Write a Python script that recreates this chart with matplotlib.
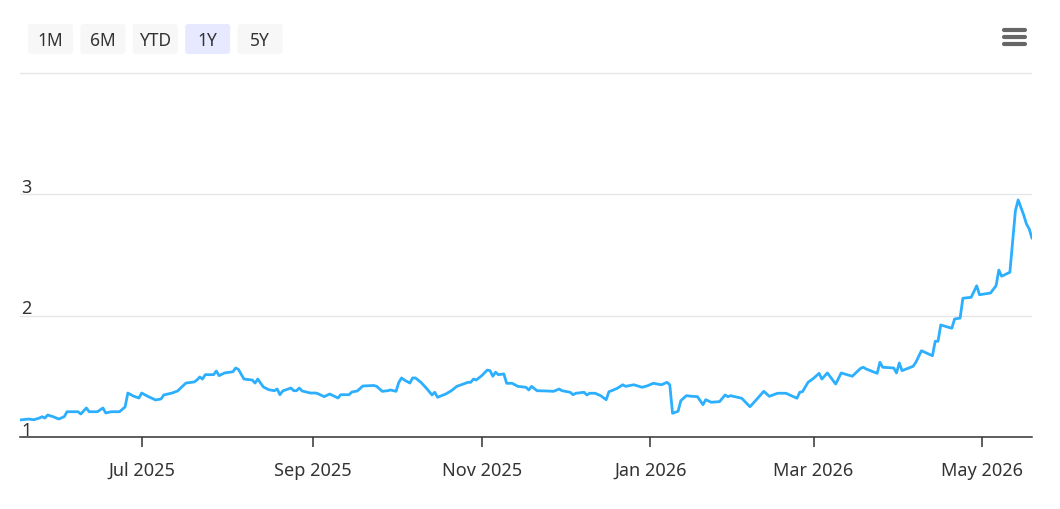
"""1Y price line with range selector buttons"""
import matplotlib
matplotlib.use('Agg')
import matplotlib.pyplot as plt
import matplotlib.dates as mdates
from matplotlib.patches import FancyBboxPatch
import pandas as pd

plt.rcParams['font.family'] = ['Noto Sans', 'DejaVu Sans']

# Data
dates_2025_05 = ['2025-05-18', '2025-05-21', '2025-05-23', '2025-05-25', '2025-05-26', '2025-05-27', '2025-05-28', '2025-05-30']
vals_2025_05 = [1.140, 1.148, 1.142, 1.156, 1.167, 1.156, 1.181, 1.167]
dates_2025_06 = ['2025-06-01', '2025-06-03', '2025-06-04', '2025-06-08', '2025-06-09', '2025-06-11', '2025-06-12', '2025-06-15',
                 '2025-06-17', '2025-06-18', '2025-06-20', '2025-06-23', '2025-06-25', '2025-06-26', '2025-06-28', '2025-06-30']
vals_2025_06 = [1.148, 1.167, 1.208, 1.208, 1.189, 1.239, 1.208, 1.208, 1.239, 1.198, 1.208, 1.208, 1.247, 1.362, 1.337, 1.321]
dates_2025_07 = ['2025-07-01', '2025-07-03', '2025-07-06', '2025-07-08', '2025-07-09', '2025-07-12', '2025-07-14', '2025-07-17',
                 '2025-07-20', '2025-07-21', '2025-07-22', '2025-07-23', '2025-07-24', '2025-07-27', '2025-07-28', '2025-07-29', '2025-07-31']
vals_2025_07 = [1.362, 1.337, 1.305, 1.313, 1.346, 1.362, 1.379, 1.444, 1.453, 1.469, 1.494, 1.477, 1.513, 1.513, 1.543, 1.505, 1.527]
dates_2025_08 = ['2025-08-03', '2025-08-04', '2025-08-05', '2025-08-07', '2025-08-10', '2025-08-11', '2025-08-12', '2025-08-14',
                 '2025-08-16', '2025-08-18', '2025-08-19', '2025-08-20', '2025-08-21', '2025-08-24', '2025-08-25', '2025-08-26',
                 '2025-08-27', '2025-08-28', '2025-08-31']
vals_2025_08 = [1.537, 1.568, 1.556, 1.477, 1.469, 1.444, 1.477, 1.412, 1.389, 1.381, 1.395, 1.348, 1.379, 1.403, 1.381, 1.381,
                1.403, 1.379, 1.362]
dates_2025_09 = ['2025-09-02', '2025-09-03', '2025-09-05', '2025-09-07', '2025-09-10', '2025-09-11', '2025-09-14', '2025-09-15',
                 '2025-09-17', '2025-09-19', '2025-09-21', '2025-09-23', '2025-09-24', '2025-09-26', '2025-09-28', '2025-09-29']
vals_2025_09 = [1.362, 1.354, 1.332, 1.354, 1.321, 1.348, 1.348, 1.370, 1.379, 1.420, 1.422, 1.424, 1.417, 1.376, 1.381, 1.387]
dates_2025_10 = ['2025-10-01', '2025-10-02', '2025-10-03', '2025-10-04', '2025-10-06', '2025-10-07', '2025-10-08', '2025-10-10',
                 '2025-10-12', '2025-10-14', '2025-10-15', '2025-10-16', '2025-10-19', '2025-10-21', '2025-10-23', '2025-10-27',
                 '2025-10-28', '2025-10-29', '2025-10-30']
vals_2025_10 = [1.376, 1.450, 1.486, 1.469, 1.444, 1.486, 1.486, 1.450, 1.401, 1.346, 1.368, 1.327, 1.354, 1.381, 1.417, 1.450,
                1.450, 1.477, 1.469]
dates_2025_11 = ['2025-11-01', '2025-11-03', '2025-11-04', '2025-11-05', '2025-11-06', '2025-11-07', '2025-11-09', '2025-11-10',
                 '2025-11-12', '2025-11-14', '2025-11-17', '2025-11-18', '2025-11-19', '2025-11-21', '2025-11-24', '2025-11-27',
                 '2025-11-29', '2025-11-30']
vals_2025_11 = [1.505, 1.551, 1.546, 1.500, 1.533, 1.513, 1.519, 1.442, 1.442, 1.417, 1.409, 1.387, 1.417, 1.381, 1.379, 1.376,
                1.395, 1.381]
dates_2025_12 = ['2025-12-03', '2025-12-04', '2025-12-05', '2025-12-08', '2025-12-09', '2025-12-10', '2025-12-12', '2025-12-14',
                 '2025-12-16', '2025-12-17', '2025-12-18', '2025-12-20', '2025-12-22', '2025-12-23', '2025-12-26', '2025-12-29', '2025-12-31']
vals_2025_12 = [1.368, 1.348, 1.360, 1.368, 1.346, 1.360, 1.360, 1.340, 1.307, 1.373, 1.381, 1.401, 1.430, 1.417, 1.430, 1.409, 1.422]
dates_2026_01 = ['2026-01-02', '2026-01-05', '2026-01-07', '2026-01-08', '2026-01-09', '2026-01-11', '2026-01-12', '2026-01-14',
                 '2026-01-16', '2026-01-18', '2026-01-20', '2026-01-21', '2026-01-23', '2026-01-26', '2026-01-28', '2026-01-29', '2026-01-30']
vals_2026_01 = [1.442, 1.430, 1.450, 1.430, 1.195, 1.212, 1.299, 1.340, 1.335, 1.332, 1.266, 1.307, 1.286, 1.291, 1.346, 1.332, 1.340]
dates_2026_02 = ['2026-02-03', '2026-02-06', '2026-02-08', '2026-02-11', '2026-02-13', '2026-02-16', '2026-02-19', '2026-02-23',
                 '2026-02-24', '2026-02-25', '2026-02-27']
vals_2026_02 = [1.319, 1.249, 1.299, 1.376, 1.335, 1.360, 1.360, 1.319, 1.368, 1.373, 1.450]
dates_2026_03 = ['2026-03-01', '2026-03-03', '2026-03-04', '2026-03-06', '2026-03-09', '2026-03-11', '2026-03-15', '2026-03-18',
                 '2026-03-19', '2026-03-20', '2026-03-24', '2026-03-25', '2026-03-26', '2026-03-30', '2026-03-31']
vals_2026_03 = [1.483, 1.524, 1.477, 1.527, 1.436, 1.527, 1.500, 1.565, 1.574, 1.560, 1.524, 1.615, 1.574, 1.568, 1.527]
dates_2026_04 = ['2026-04-01', '2026-04-02', '2026-04-06', '2026-04-07', '2026-04-09', '2026-04-13', '2026-04-14', '2026-04-15',
                 '2026-04-16', '2026-04-20', '2026-04-21', '2026-04-23', '2026-04-24', '2026-04-27', '2026-04-29', '2026-04-30']
vals_2026_04 = [1.609, 1.546, 1.582, 1.615, 1.710, 1.669, 1.788, 1.788, 1.922, 1.895, 1.971, 1.979, 2.142, 2.150, 2.245, 2.171]
dates_2026_05 = ['2026-05-04', '2026-05-06', '2026-05-07', '2026-05-08', '2026-05-11', '2026-05-13', '2026-05-14', '2026-05-16',
                 '2026-05-17', '2026-05-18', '2026-05-19']
vals_2026_05 = [2.185, 2.245, 2.374, 2.323, 2.356, 2.863, 2.951, 2.827, 2.753, 2.712, 2.635]

y_ticks = [1, 2, 3, 4]
y_labels = ['1', '2', '3']
range_buttons = ['1M', '6M', 'YTD', '1Y', '5Y']
selected_button = '1Y'

date_chunks = [dates_2025_05, dates_2025_06, dates_2025_07, dates_2025_08, dates_2025_09, dates_2025_10, dates_2025_11,
               dates_2025_12, dates_2026_01, dates_2026_02, dates_2026_03, dates_2026_04, dates_2026_05]
val_chunks = [vals_2025_05, vals_2025_06, vals_2025_07, vals_2025_08, vals_2025_09, vals_2025_10, vals_2025_11,
              vals_2025_12, vals_2026_01, vals_2026_02, vals_2026_03, vals_2026_04, vals_2026_05]
for d, v in zip(date_chunks, val_chunks):
    assert len(d) == len(v), d[0]
series = pd.Series(sum(val_chunks, []), index=pd.to_datetime(sum(date_chunks, [])))

W, H = 1060, 510
fig = plt.figure(figsize=(W / 100, H / 100), dpi=100)
ax = fig.add_axes([20 / W, 1 - 438 / H, 1012 / W, 368 / H])

ax.plot(series.index, series.values, color='#2caffe', lw=2.0, solid_joinstyle='round', solid_capstyle='round', zorder=3)
ax.set_xlim(series.index[0], series.index[-1])
ax.set_ylim(1, 1 + 368 / 121.5)

ax.set_yticks(y_ticks)
ax.yaxis.grid(True, color='#e6e6e6', lw=1)
ax.tick_params(axis='y', length=0, labelleft=False)
for s in ['top', 'right', 'left']:
    ax.spines[s].set_visible(False)
ax.spines['bottom'].set_color('#333333')
ax.spines['bottom'].set_linewidth(1.1)
ax.spines['bottom'].set_zorder(4)

ax.xaxis.set_major_locator(mdates.MonthLocator(bymonth=[1, 3, 5, 7, 9, 11]))
ax.xaxis.set_major_formatter(mdates.DateFormatter('%b %Y'))
ax.tick_params(axis='x', length=7, width=1.1, color='#333333', labelsize=13, labelcolor='#333333', pad=10)

for lab, v in zip(y_labels, y_ticks):
    ax.annotate(lab, xy=(0, v), xycoords=('axes fraction', 'data'), xytext=(1, 1.5), textcoords='offset points',
                ha='left', va='baseline', fontsize=13, color='#333333')

# Range selector + menu icon drawn in pixel space
ui = fig.add_axes([0, 0, 1, 1], zorder=-1)
ui.set_xlim(0, W)
ui.set_ylim(H, 0)
ui.axis('off')
for i, lab in enumerate(range_buttons):
    x0 = 28 + i * 52.4
    sel = lab == selected_button
    ui.add_patch(FancyBboxPatch((x0, 25), 45, 30, boxstyle='round,pad=0,rounding_size=3',
                                fc='#e6e9ff' if sel else '#f7f7f7', ec='none'))
    ui.text(x0 + 22.5, 41, lab, ha='center', va='center', fontsize=12.5, color='#333333',
            fontweight='bold' if sel else 'normal')
for yy in [31, 38, 45]:
    ui.plot([1004, 1025], [yy, yy], color='#666666', lw=3, solid_capstyle='round')

fig.savefig('out.png', dpi=100)
